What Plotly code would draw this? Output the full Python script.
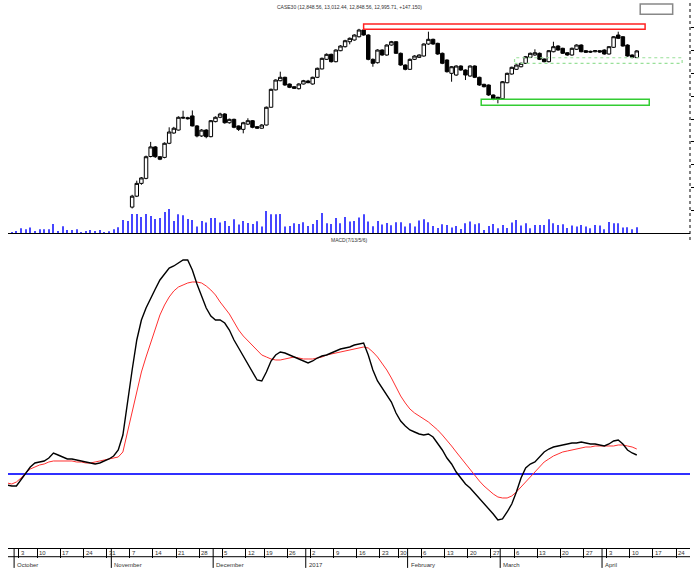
import pandas as pd
import plotly.graph_objects as go

# ---------------- trading calendar (EGX: Sun-Thu) ----------------
HOLIDAYS = ["2016-10-06", "2016-12-12", "2017-01-25"]
days = pd.bdate_range("2016-09-28", "2017-04-30", freq="C",
                      weekmask="Sun Mon Tue Wed Thu", holidays=HOLIDAYS)
ORIGIN = list(days).index(pd.Timestamp("2016-10-03"))
pos = {d: i - ORIGIN for i, d in enumerate(days)}


def span(start, n):
    p0 = pos[pd.Timestamp(start)]
    return list(range(p0, p0 + n))


# ---------------- price data (CASE30 daily candles) ----------------
candle_start = "2016-11-07"
c_open = [9570, 9810, 10090, 10200, 10680, 10890, 10675, 10660, 10970, 11195,
          11260, 11540, 11530, 11570, 11350, 11130, 11260, 11115, 11445, 11540,
          11612, 11420, 11495, 11350, 11275, 11390, 11465, 11335, 11300, 11370,
          11760, 12140, 12342, 12417, 12270, 12210, 12167, 12270, 12335, 12270,
          12417, 12600, 12811, 12921, 12759, 13000, 13088, 13197, 13235, 13307,
          13454, 13344, 12811, 12737, 13015, 12906, 13125, 13197, 12943, 12686,
          12592, 12811, 12855, 12884, 13147, 13250, 13162, 12943, 12796, 12504,
          12467, 12664, 12577, 12445, 12664, 12417, 12263, 12248, 12029, 11978,
          11947, 12298, 12489, 12592, 12649, 12724, 12855, 12906, 12943, 12818,
          12759, 12978, 13103, 13053, 12956, 12906, 13031, 13125, 13000, 12987,
          12978, 13000, 13015, 12928, 13075, 13344, 13307, 13125, 12906, 12848.56]
c_high = [9840, 10150, 10230, 10700, 11000, 10910, 10690, 10990, 11320, 11330,
          11560, 11684, 11550, 11690, 11370, 11280, 11280, 11480, 11560, 11640,
          11630, 11510, 11510, 11360, 11440, 11518, 11480, 11345, 11390, 11775,
          12170, 12370, 12540, 12430, 12280, 12220, 12285, 12360, 12360, 12430,
          12630, 12850, 12940, 12935, 13030, 13120, 13240, 13290, 13360, 13480,
          13490, 13360, 12830, 13030, 13030, 13140, 13215, 13210, 12960, 12700,
          12830, 12900, 12920, 13160, 13417, 13265, 13175, 12960, 12810, 12665,
          12680, 12680, 12590, 12680, 12680, 12430, 12275, 12260, 12040, 11990,
          12335, 12520, 12650, 12700, 12740, 12885, 12960, 13031, 12960, 12830,
          13015, 13197, 13120, 13065, 12970, 13070, 13140, 13140, 13015, 13000,
          13015, 13010, 13030, 13100, 13320, 13417, 13320, 13140, 12920, 13012.44]
c_low = [9540, 9790, 10060, 10180, 10660, 10650, 10600, 10640, 10950, 11180,
         11250, 11510, 11490, 11340, 11100, 11110, 11080, 11100, 11430, 11520,
         11400, 11400, 11300, 11240, 11188, 11370, 11300, 11285, 11290, 11360,
         11750, 12130, 12330, 12230, 12180, 12160, 12150, 12260, 12290, 12255,
         12400, 12590, 12800, 12740, 12745, 12990, 13070, 13140, 13220, 13290,
         13330, 12790, 12649, 12720, 12890, 12890, 13110, 12930, 12670, 12570,
         12580, 12795, 12840, 12870, 13130, 13130, 12910, 12705, 12520, 12320,
         12450, 12560, 12357, 12430, 12400, 12230, 12195, 12010, 11915, 11846,
         11930, 12285, 12475, 12580, 12635, 12710, 12840, 12890, 12795, 12745,
         12745, 12965, 13000, 12930, 12890, 12890, 13015, 12965, 12950, 12955,
         12965, 12955, 12915, 12915, 13060, 13255, 13090, 12870, 12835, 12848.56]
c_close = [9810, 10090, 10210, 10675, 10890, 10675, 10620, 10970, 11217, 11300,
           11540, 11525, 11510, 11350, 11130, 11260, 11115, 11465, 11540, 11612,
           11420, 11495, 11320, 11275, 11420, 11465, 11320, 11300, 11370, 11760,
           12153, 12357, 12417, 12248, 12197, 12175, 12270, 12342, 12298, 12417,
           12614, 12833, 12921, 12759, 13015, 13103, 13219, 13272, 13344, 13454,
           13344, 12811, 12724, 13015, 12906, 13125, 13197, 12943, 12686, 12592,
           12811, 12884, 12906, 13147, 13250, 13147, 12928, 12724, 12540, 12649,
           12664, 12577, 12467, 12664, 12417, 12248, 12210, 12029, 11934, 11941,
           12320, 12504, 12636, 12686, 12724, 12868, 12943, 12956, 12811, 12759,
           13000, 13088, 13015, 12943, 12906, 13053, 13125, 12978, 12965, 12971,
           13000, 12971, 12928, 13088, 13307, 13272, 13103, 12884, 12855, 12995.71]

# ---------------- volume (from 29 Sep 2016) ----------------
volume_start = "2016-09-29"
volume = [13, 23,
          50, 40, 57, 23, 40, 40, 40, 93, 23, 70,
          33, 33, 40, 13, 23, 33, 23, 33, 13, 20,
          40, 60, 133, 123, 193, 193, 163, 193, 173, 143,
          153, 213, 243, 123, 190, 180, 143, 133, 67, 123,
          107, 153, 153, 107, 123, 73, 140, 87, 123, 103,
          93, 120, 67, 223, 190, 190, 193, 67, 73, 100,
          93, 110, 73, 93, 133, 203, 100, 93, 153, 100,
          163, 117, 123, 157, 190, 117, 70, 123, 87, 103,
          80, 110, 110, 67, 100, 67, 127, 140, 110, 73,
          53, 90, 83, 57, 73, 43, 100, 117, 90, 100,
          33, 73, 93, 50, 83, 53, 107, 133, 77, 100,
          50, 83, 83, 83, 140, 100, 83, 90, 53, 77,
          67, 83, 67, 50, 83, 77, 40, 113, 100, 100,
          57, 60, 40, 60]

# ---------------- MACD (from 28 Sep 2016) ----------------
macd_start = "2016-09-28"
macd = [-44, -48, -48,
        -24, 4, 28, 44, 48, 52, 64, 84, 76, 68,
        60, 60, 56, 52, 48, 44, 40, 44, 52, 60,
        72, 96, 156, 296, 416, 536, 616, 664, 704, 740,
        776, 800, 824, 832, 844, 856, 856, 816, 760, 712,
        664, 632, 616, 616, 604, 576, 536, 504, 472, 440,
        408, 376, 372, 408, 452, 476, 488, 484, 476, 468,
        460, 452, 444, 452, 464, 472, 476, 484, 492, 500,
        504, 508, 516, 520, 524, 476, 416, 372, 344, 316,
        288, 244, 212, 192, 176, 168, 160, 156, 160, 148,
        124, 96, 64, 40, 8, -16, -40, -56, -76, -96,
        -116, -140, -160, -184, -180, -152, -120, -72, -16, 24,
        40, 48, 68, 88, 100, 108, 112, 116, 120, 124,
        124, 128, 124, 120, 120, 116, 112, 120, 132, 136,
        120, 96, 84, 76]
signal = [-36, -40, -32,
          -16, 4, 20, 28, 36, 40, 48, 52, 52, 52,
          52, 52, 48, 48, 44, 44, 48, 52, 56, 60,
          64, 68, 88, 168, 256, 336, 408, 468, 524, 584,
          636, 676, 708, 732, 748, 756, 764, 768, 768, 764,
          752, 736, 716, 688, 664, 640, 608, 576, 552, 532,
          512, 492, 476, 468, 460, 456, 456, 460, 464, 468,
          464, 460, 460, 460, 464, 468, 476, 480, 484, 488,
          492, 496, 500, 504, 508, 504, 488, 468, 444, 416,
          384, 348, 312, 284, 260, 244, 232, 220, 208, 192,
          176, 156, 136, 112, 88, 64, 40, 16, -8, -28,
          -48, -64, -80, -92, -96, -96, -88, -72, -52, -32,
          -12, 12, 32, 48, 60, 72, 80, 88, 92, 96,
          100, 104, 108, 108, 112, 112, 112, 112, 112, 116,
          116, 112, 108, 100]

# ---------------- axis labels ----------------
week_ticks = pd.date_range("2016-10-03", "2017-04-24", freq="7D")
month_starts = ["2016-10-01", "2016-11-01", "2016-12-01", "2017-01-01",
                "2017-02-01", "2017-03-01", "2017-04-01"]
month_names = ["October", "November", "December", "2017", "February", "March", "April"]
price_ticks = [9500, 10000, 10500, 11000, 11500, 12000, 12500, 13000, 13500]

title_text = "CASE30 (12,848.56, 13,012.44, 12,848.56, 12,995.71, +147.150)"
macd_title = "MACD(7/13/5/6)"

# analyst zones (trading-day position, price)
red_zone = dict(x0=74, x1=134.8, y0=13469, y1=13585)
green_zone = dict(x0=99.4, x1=135.7, y0=11803, y1=11934)
light_zone = dict(x0=106.6, x1=142.8, y0=12724, y1=12846)


def first_trading_pos(date):
    d = pd.Timestamp(date)
    while d not in pos:
        d += pd.Timedelta(days=1)
    return pos[d]


tick_pos = [first_trading_pos(d) - 0.5 for d in week_ticks]
tick_txt = [str(d.day) for d in week_ticks]
month_pos = [first_trading_pos(d) - 0.5 for d in month_starts]

FONT = "Liberation Sans Narrow, Liberation Sans, Arial, sans-serif"
XR = [-2.817, 144.5]

fig = go.Figure()
fig.add_trace(go.Bar(x=span(volume_start, len(volume)), y=volume, xaxis="x2", yaxis="y2",
                     marker=dict(color="#4646ff", line=dict(width=0)), width=0.22,
                     showlegend=False))
fig.add_trace(go.Candlestick(x=span(candle_start, len(c_open)), open=c_open, high=c_high,
                             low=c_low, close=c_close, xaxis="x2", yaxis="y",
                             increasing=dict(line=dict(color="black", width=1), fillcolor="white"),
                             decreasing=dict(line=dict(color="black", width=1), fillcolor="black"),
                             whiskerwidth=0, showlegend=False))
fig.add_trace(go.Scatter(x=span(macd_start, len(signal)), y=signal, xaxis="x", yaxis="y3",
                         mode="lines", line=dict(color="#ff3030", width=1), showlegend=False))
fig.add_trace(go.Scatter(x=span(macd_start, len(macd)), y=macd, xaxis="x", yaxis="y3",
                         mode="lines", line=dict(color="black", width=1.4), showlegend=False))

shapes = []
# right dotted price axis
shapes.append(dict(type="line", xref="paper", yref="paper", x0=1, x1=1, y0=0.5725, y1=1.0186,
                   line=dict(color="black", width=1, dash="dot")))
# small box top right
shapes.append(dict(type="rect", xref="paper", yref="paper", x0=0.927, x1=0.9746, y0=0.992, y1=1.0112,
                   line=dict(color="#888888", width=1.5), fillcolor="white"))
# lower line of the date strip
shapes.append(dict(type="line", xref="paper", yref="paper", x0=0, x1=1, y0=-0.0162, y1=-0.0162,
                   line=dict(color="black", width=1)))
for mp in month_pos:
    shapes.append(dict(type="line", xref="x", yref="paper", x0=mp, x1=mp, y0=0, y1=-0.037,
                       line=dict(color="black", width=1)))
shapes.append(dict(type="rect", xref="x", yref="y", **red_zone,
                   line=dict(color="#ff2020", width=1.5)))
shapes.append(dict(type="rect", xref="x", yref="y", **green_zone,
                   line=dict(color="#33cc33", width=1.5)))
shapes.append(dict(type="rect", xref="x", yref="y", **light_zone,
                   line=dict(color="#99e099", width=1.2, dash="dot")))

ann = []
ann.append(dict(text=title_text, xref="paper", yref="paper", x=0.5, y=1.0056, showarrow=False,
                font=dict(family=FONT, size=5, color="#333333"), xanchor="center", yanchor="middle"))
ann.append(dict(text=macd_title, xref="paper", yref="paper", x=0.5, y=0.5725, showarrow=False,
                font=dict(family=FONT, size=5, color="#333333"), xanchor="center", yanchor="middle"))
for tp, tt in zip(tick_pos, tick_txt):
    ann.append(dict(text=tt, xref="x", yref="paper", x=tp, y=-0.0085, showarrow=False,
                    xanchor="left", yanchor="middle", xshift=0,
                    font=dict(family=FONT, size=6, color="#333333")))
for mp, mn in zip(month_pos, month_names):
    ann.append(dict(text=mn, xref="x", yref="paper", x=mp, y=-0.0307, showarrow=False,
                    xanchor="left", yanchor="middle", xshift=1,
                    font=dict(family=FONT, size=6, color="#333333")))

fig.update_layout(
    width=697, height=571, autosize=False,
    margin=dict(l=8, r=4, t=10, b=23, pad=0),
    paper_bgcolor="white", plot_bgcolor="white",
    showlegend=False, boxgap=0.25, boxgroupgap=0, hovermode=False,
    xaxis=dict(domain=[0, 1], anchor="y3", range=XR, showline=True, linecolor="black", linewidth=1,
               ticks="outside", ticklen=9, tickcolor="black", tickwidth=1, tickvals=tick_pos,
               showticklabels=False, showgrid=False, zeroline=False, rangeslider=dict(visible=False)),
    xaxis2=dict(domain=[0, 1], anchor="y", range=XR, showline=True, linecolor="black", linewidth=1,
                ticks="", showticklabels=False, showgrid=False, zeroline=False,
                rangeslider=dict(visible=False)),
    yaxis=dict(domain=[0.585, 1], anchor="x2", side="right", range=[8996, 13893],
               showgrid=False, zeroline=False, showline=False, ticks="outside", ticklen=3,
               tickcolor="black", tickvals=price_ticks, showticklabels=False),
    yaxis2=dict(overlaying="y", anchor="x2", range=[0, 2233], visible=False),
    yaxis3=dict(domain=[0, 0.5632], anchor="x", range=[-296, 916], showgrid=False,
                showticklabels=False, ticks="", showline=False,
                zeroline=True, zerolinecolor="#3030ff", zerolinewidth=1.5),
    shapes=shapes, annotations=ann,
)

fig.write_html("out.html", config={"displayModeBar": False},
               post_script="document.body.style.margin='0';document.body.style.overflow='hidden';")
